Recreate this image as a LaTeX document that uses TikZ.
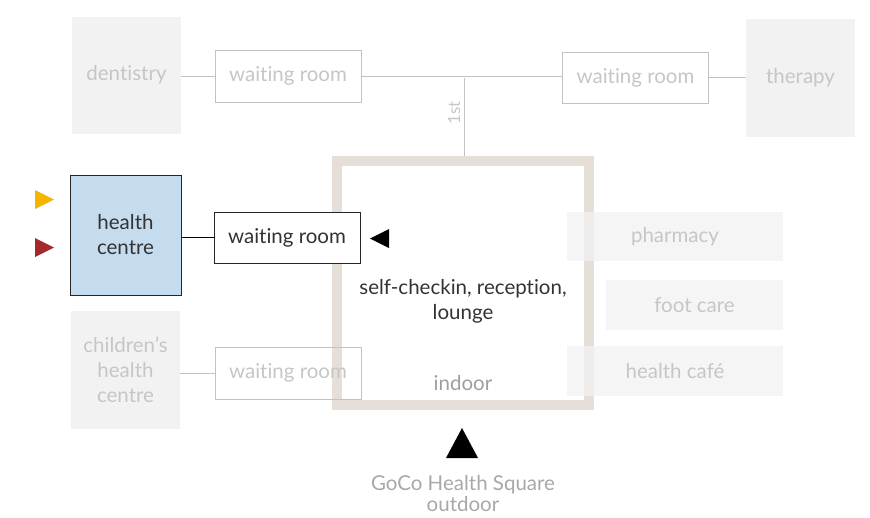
\documentclass[tikz,border=0pt]{standalone}
\usepackage{fontspec}
\setmainfont[Ligatures=NoCommon]{Lato}
\definecolor{paleroom}{HTML}{F2F2F2}
\definecolor{paletext}{HTML}{C6C6C6}
\definecolor{paleline}{HTML}{C2C2C2}
\definecolor{wallbeige}{HTML}{E6DFD8}
\definecolor{centreblue}{HTML}{C5DBEE}
\definecolor{darktext}{HTML}{333333}
\definecolor{markyellow}{HTML}{F4B400}
\definecolor{markred}{HTML}{A5282E}
\tikzset{
  pale/.style={fill=paleroom, text=paletext, align=center, inner sep=0pt},
  palewait/.style={draw=paleline, fill=white, text=paletext, minimum width=146pt, minimum height=52pt, inner sep=0pt},
  paleline/.style={draw=paleline, line width=1pt},
  roomfont/.style={font=\fontsize{20.5}{25}\selectfont}
}
\begin{document}
\begin{tikzpicture}[x=1pt, y=-1pt, roomfont]
\useasboundingbox (0,0) rectangle (870,517);

% indoor square
\draw [wallbeige, line width=10pt] (337,161) rectangle (589,405);
\node [text=darktext, align=center] (lobby) at (463,301) {self-checkin, reception,\\lounge};
\node [text=paletext!80!black] (indoor) at (463,383) {indoor};

% first floor
\node [pale, minimum width=109pt, minimum height=117pt] (dent) at (126.5,75) {dentistry};
\node [palewait] (waitdent) at (288,76) {waiting room};
\node [palewait, minimum height=51pt] (waittherapy) at (635.5,77.5) {waiting room};
\node [pale, minimum width=109pt, minimum height=118pt] (therapy) at (800.5,78) {therapy};
\coordinate (floor) at (464,78);
\coordinate (stairs) at (464,156);
\draw [paleline] (dent.east |- waitdent.west) -- (waitdent.west);
\draw [paleline] (waitdent.east) -- (waittherapy.west |- waitdent.east);
\draw [paleline] (waittherapy.east) -- (therapy.west |- waittherapy.east);
\draw [paleline] (floor) -- node [pos=0.45, rotate=90, anchor=south, font=\fontsize{17}{19}\selectfont, text=paletext] {1st} (stairs);

% ground floor
\node [fill=centreblue, draw=black!85, text=darktext, align=center, minimum width=111pt, minimum height=120pt] (centre) at (125.5,235) {health\\centre};
\node [draw=black!85, fill=white, text=darktext, minimum width=146pt, minimum height=51pt] (waitcentre) at (287,237.5) {waiting room};
\draw [black, line width=1pt] (centre.east |- waitcentre.west) -- (waitcentre.west);

\node [pale, minimum width=109pt, minimum height=118pt] (kids) at (125.5,370) {children's\\health\\centre};
\node [palewait, fill=none] (waitkids) at (288,373) {waiting room};
\draw [paleline] (kids.east |- waitkids.west) -- (waitkids.west);

\node [pale, fill opacity=0.75, text opacity=1, minimum width=216pt, minimum height=49pt] (pharmacy) at (675,236.5) {pharmacy};
\node [pale, fill opacity=0.75, text opacity=1, minimum width=177pt, minimum height=50pt] (foot) at (694.5,305) {foot care};
\node [pale, fill opacity=0.75, text opacity=1, minimum width=216pt, minimum height=50pt] (cafe) at (675,371) {health café};

% markers
\fill [black] (389,229) -- (389,248) -- (370,238.5) -- cycle;
\fill [markyellow] (35,190) -- (35,209) -- (54,199.5) -- cycle;
\fill [markred] (35,238) -- (35,257) -- (54,247.5) -- cycle;
\fill [black] (446,458) -- (478,458) -- (462,428) -- cycle;

\node [text=paletext!85!black, align=center, font=\fontsize{20.5}{21}\selectfont, inner sep=1pt] (square) at (463,494) {GoCo Health Square\\outdoor};

\end{tikzpicture}
\end{document}
